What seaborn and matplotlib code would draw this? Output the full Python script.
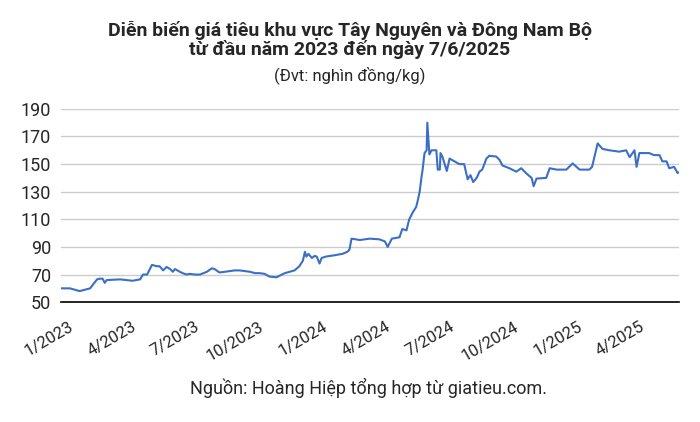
import matplotlib
matplotlib.use("Agg")
import matplotlib.pyplot as plt
import matplotlib.transforms as mtransforms
import pandas as pd
import seaborn as sns

# Giá tiêu Tây Nguyên & Đông Nam Bộ (nghìn đồng/kg)
dates = [
    "2023-01-01", "2023-01-14", "2023-01-28", "2023-02-12", "2023-02-22", "2023-02-26",
    "2023-03-02", "2023-03-05", "2023-03-08", "2023-03-27", "2023-04-14", "2023-04-25",
    "2023-04-29", "2023-05-05", "2023-05-12", "2023-05-19", "2023-05-23", "2023-05-28",
    "2023-06-02", "2023-06-07", "2023-06-11", "2023-06-14", "2023-06-21", "2023-06-25",
    "2023-07-01", "2023-07-05", "2023-07-13", "2023-07-20", "2023-07-30", "2023-08-06",
    "2023-08-10", "2023-08-17", "2023-08-25", "2023-09-08", "2023-09-15", "2023-09-22",
    "2023-09-30", "2023-10-07", "2023-10-14", "2023-10-21", "2023-10-28", "2023-11-07",
    "2023-11-19", "2023-11-26", "2023-12-03", "2023-12-10", "2023-12-15", "2023-12-18",
    "2023-12-20", "2023-12-23", "2023-12-28", "2024-01-01", "2024-01-04", "2024-01-08",
    "2024-01-11", "2024-01-17", "2024-01-30", "2024-02-10", "2024-02-17", "2024-02-20",
    "2024-02-23", "2024-03-06", "2024-03-20", "2024-04-03", "2024-04-11", "2024-04-15",
    "2024-04-21", "2024-05-02", "2024-05-06", "2024-05-12", "2024-05-16", "2024-05-21",
    "2024-05-26", "2024-05-28", "2024-05-31", "2024-06-03", "2024-06-04", "2024-06-07",
    "2024-06-10", "2024-06-11", "2024-06-14", "2024-06-17", "2024-06-21", "2024-06-24",
    "2024-06-26", "2024-06-29", "2024-06-30", "2024-07-03", "2024-07-06", "2024-07-09",
    "2024-07-13", "2024-07-20", "2024-07-27", "2024-08-03", "2024-08-08", "2024-08-12",
    "2024-08-16", "2024-08-21", "2024-08-25", "2024-08-29", "2024-09-04", "2024-09-08",
    "2024-09-18", "2024-09-23", "2024-09-27", "2024-10-07", "2024-10-17", "2024-10-24",
    "2024-11-01", "2024-11-08", "2024-11-11", "2024-11-15", "2024-11-29", "2024-12-04",
    "2024-12-14", "2024-12-28", "2025-01-06", "2025-01-16", "2025-01-30", "2025-02-03",
    "2025-02-11", "2025-02-18", "2025-02-28", "2025-03-14", "2025-03-24", "2025-03-29",
    "2025-04-05", "2025-04-08", "2025-04-12", "2025-04-26", "2025-05-03", "2025-05-11",
    "2025-05-15", "2025-05-21", "2025-05-25", "2025-06-01", "2025-06-06", "2025-06-07",
]
prices = [
    60, 60, 58, 60, 66.5, 67,
    67, 64, 66, 66.5, 65.5, 66.5,
    70, 70, 77, 76, 76, 73,
    75.5, 74, 72, 74, 72, 71,
    70, 70.5, 70, 70, 72, 74.5,
    74, 71.5, 72, 73, 73, 72.5,
    72, 71, 71, 70.5, 68.5, 68,
    71, 72, 73, 76, 80, 86.5,
    83, 85, 82, 83.5, 83, 78,
    82, 83, 84, 85, 86.5, 88,
    96, 95, 96, 95.5, 94, 90,
    96, 97, 103, 102, 110, 115,
    119, 123, 130, 142, 145, 158,
    160, 180, 157, 160, 160, 160,
    146, 146, 158, 155, 150, 145,
    154, 152, 150, 150, 139, 142,
    137, 140, 144.5, 146, 154, 156,
    155.5, 153, 149, 147, 144.5, 147,
    143, 140, 134, 139.5, 140, 147,
    146, 146, 150.5, 146, 146, 148,
    165, 161, 160, 159, 160, 155,
    160, 148, 158, 158, 156.5, 156.5,
    152, 152, 147, 148, 143.5, 144,
]
tick_dates = ["2023-01-01", "2023-04-01", "2023-07-01", "2023-10-01", "2024-01-01",
              "2024-04-01", "2024-07-01", "2024-10-01", "2025-01-01", "2025-04-01"]
tick_labels = ["1/2023", "4/2023", "7/2023", "10/2023", "1/2024",
               "4/2024", "7/2024", "10/2024", "1/2025", "4/2025"]
y_ticks = [50, 70, 90, 110, 130, 150, 170, 190]

df = pd.DataFrame({"date": pd.to_datetime(dates), "price": prices})

sns.set_style("white")
plt.rcParams["font.family"] = ["Roboto", "DejaVu Sans"]

fig = plt.figure(figsize=(7, 4.22), dpi=100)
ax = fig.add_axes([0.087, 0.284, 0.883, 0.458])

sns.lineplot(data=df, x="date", y="price", ax=ax, color="#3b6fc6", linewidth=1.5)

ax.set_ylim(50, 190)
ax.set_xlim(pd.Timestamp("2023-01-01"), pd.Timestamp("2025-06-08"))
ax.set_yticks(y_ticks)
ax.set_xticks(pd.to_datetime(tick_dates))
ax.set_xticklabels(tick_labels, rotation=30, ha="right", rotation_mode="anchor")
ax.tick_params(axis="x", direction="inout", length=6, color="black", labelsize=12, pad=9)
ax.tick_params(axis="y", length=0, labelsize=13, pad=7)
# nudge rotated date labels a little to the right like the original
offset = mtransforms.ScaledTranslation(8 / 100, 0, fig.dpi_scale_trans)
for lab in ax.get_xticklabels():
    lab.set_transform(lab.get_transform() + offset)
ax.grid(axis="y", color="#cccccc", linewidth=1)
ax.set_axisbelow(True)
for s in ["top", "right", "left"]:
    ax.spines[s].set_visible(False)
ax.spines["bottom"].set_color("black")
ax.spines["bottom"].set_linewidth(1.2)
ax.set_xlabel("")
ax.set_ylabel("")

fig.text(0.5, 0.95, "Diễn biến giá tiêu khu vực Tây Nguyên và Đông Nam Bộ\ntừ đầu năm 2023 đến ngày 7/6/2025",
         ha="center", va="top", fontsize=14, fontweight="bold", linespacing=1.0)
fig.text(0.5, 0.822, "(Đvt: nghìn đồng/kg)", ha="center", va="center", fontsize=12)
fig.text(0.527, 0.08, "Nguồn: Hoàng Hiệp tổng hợp từ giatieu.com.", ha="center", va="center", fontsize=13)

fig.savefig("out.png", dpi=100)
